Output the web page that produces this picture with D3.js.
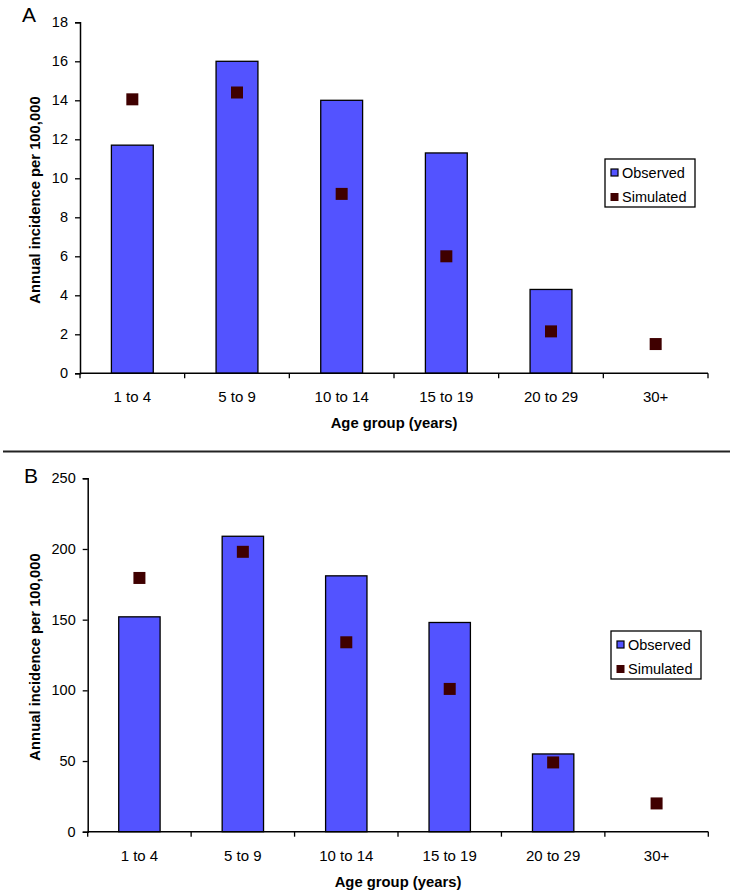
<!DOCTYPE html>
<html><head><meta charset="utf-8">
<script src="https://cdn.jsdelivr.net/npm/d3@7"></script>
<style>body{margin:0;background:#fff}svg{display:block}text{font-family:"Liberation Sans",Arial,sans-serif}</style>
</head><body>
<script>
const categories = ["1 to 4","5 to 9","10 to 14","15 to 19","20 to 29","30+"];
const observedA = [11.7, 16.0, 14.0, 11.3, 4.3, 0];
const simulatedA = [14.05, 14.4, 9.2, 6.0, 2.15, 1.5];
const ticksA = [0,2,4,6,8,10,12,14,16,18];
const observedB = [152, 209, 181, 148, 55, 0];
const simulatedB = [179.5, 198, 134, 101, 49, 20];
const ticksB = [0,50,100,150,200,250];
const seriesNames = ["Observed","Simulated"];
const xTitle = "Age group (years)";
const yTitle = "Annual incidence per 100,000";

const W = 735, H = 894;
const svg = d3.select("body").append("svg").attr("width", W).attr("height", H);
const barColor = "#5353ff", simColor = "#3f0000";

function panel(cfg){
  const g = svg.append("g");
  const x = d3.scaleBand().domain(categories).range([cfg.x0, cfg.x1]).paddingInner(0.6).paddingOuter(0.3);
  const y = d3.scaleLinear().domain([0, cfg.max]).range([cfg.y0, cfg.y1]);
  const xb = d3.scaleLinear().domain([0, categories.length]).range([cfg.x0, cfg.x1]);

  g.selectAll("rect.bar").data(categories.map((c,i)=>({c, v:cfg.obs[i]})).filter(d=>d.v>0))
    .join("rect").attr("class","bar")
    .attr("x", d=>x(d.c)).attr("width", x.bandwidth())
    .attr("y", d=>y(d.v)).attr("height", d=>y(0)-y(d.v))
    .attr("fill", barColor).attr("stroke","#000").attr("stroke-width",1.3);

  const ya = d3.axisLeft(y).tickValues(cfg.ticks).tickSize(5).tickPadding(7);
  const yg = g.append("g").attr("transform",`translate(${cfg.x0},0)`).call(ya);
  yg.select(".domain").attr("stroke","#000").attr("stroke-width",1.5);
  yg.selectAll(".tick line").attr("stroke-width",1.3);
  yg.selectAll("text").attr("font-size",14.5).attr("fill","#000");

  const xg = g.append("g").attr("transform",`translate(0,${cfg.y0})`);
  xg.append("line").attr("x1",cfg.x0).attr("x2",cfg.x1).attr("stroke","#000").attr("stroke-width",1.6);
  xg.selectAll("line.tk").data(d3.range(categories.length+1)).join("line").attr("class","tk")
    .attr("x1",d=>xb(d)).attr("x2",d=>xb(d)).attr("y1",0).attr("y2",5).attr("stroke","#000").attr("stroke-width",1.3);
  xg.selectAll("text").data(categories).join("text")
    .attr("x",d=>x(d)+x.bandwidth()/2).attr("y",29).attr("text-anchor","middle")
    .attr("font-size",15).text(d=>d);

  const s = 12;
  g.selectAll("rect.sim").data(categories.map((c,i)=>({c, v:cfg.sim[i]})))
    .join("rect").attr("class","sim")
    .attr("x", d=>x(d.c)+x.bandwidth()/2 - s/2).attr("y", d=>y(d.v)-s/2)
    .attr("width",s).attr("height",s).attr("fill",simColor);

  g.append("text").attr("x",(cfg.x0+cfg.x1)/2).attr("y",cfg.y0+55).attr("text-anchor","middle")
    .attr("font-size",14.8).attr("font-weight","bold").text(xTitle);
  g.append("text").attr("transform",`translate(${cfg.ylx},${cfg.ylc}) rotate(-90)`)
    .attr("text-anchor","middle").attr("font-size",14.8).attr("font-weight","bold").text(yTitle);
  g.append("text").attr("x",cfg.lx).attr("y",cfg.ly).attr("font-size",21).text(cfg.label);

  const lg = g.append("g").attr("transform",`translate(${cfg.legx},${cfg.legy})`);
  lg.append("rect").attr("width",cfg.legw).attr("height",48).attr("fill","#fff").attr("stroke","#000").attr("stroke-width",1.3);
  lg.append("rect").attr("x",6).attr("y",10).attr("width",7).attr("height",7).attr("fill",barColor).attr("stroke","#000").attr("stroke-width",1.2);
  lg.append("rect").attr("x",5.5).attr("y",34).attr("width",8).attr("height",8).attr("fill",simColor);
  lg.selectAll("text").data(seriesNames).join("text")
    .attr("x",17).attr("y",(d,i)=>19+i*24).attr("font-size",14.5).text(d=>d);
}

panel({x0:80, x1:708, y0:373.3, y1:22.3, max:18, obs:observedA, sim:simulatedA, ticks:ticksA,
  ylx:40, ylc:200, lx:22, ly:22, label:"A", legx:605, legy:159, legw:90});
svg.append("line").attr("x1",3).attr("x2",730).attr("y1",451.5).attr("y2",451.5).attr("stroke","#222").attr("stroke-width",2);
panel({x0:87.7, x1:708.3, y0:831.7, y1:478.3, max:250, obs:observedB, sim:simulatedB, ticks:ticksB,
  ylx:40, ylc:657, lx:24, ly:483, label:"B", legx:611, legy:631, legw:90});
</script>
</body></html>
